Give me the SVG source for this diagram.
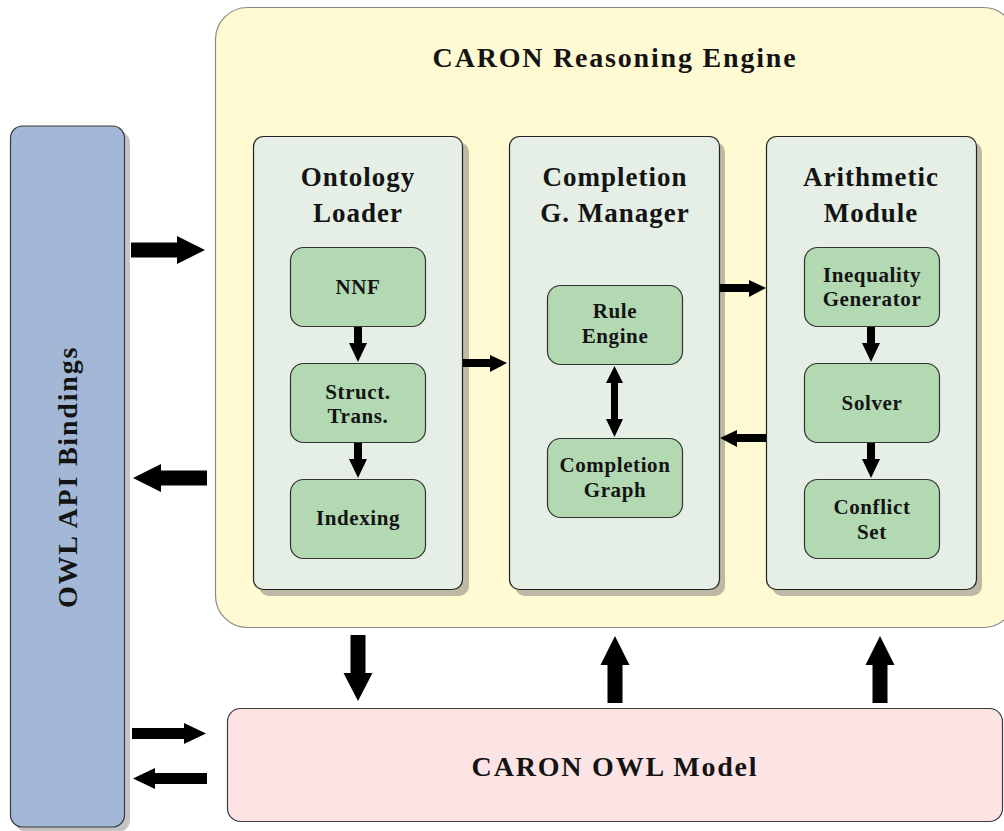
<svg xmlns="http://www.w3.org/2000/svg" width="1004" height="831" viewBox="0 0 1004 831">
<style>
text{font-family:"Liberation Serif","DejaVu Serif",serif;font-weight:bold;fill:#141414;text-anchor:middle}
.title{font-size:28px;letter-spacing:1.8px}
.panelt{font-size:27px;letter-spacing:1px}
.box{font-size:21px;letter-spacing:0.6px}
.panel{fill:#e5efe5;stroke:#222;stroke-width:1.2}
.pshadow{fill:#bdb9a5}
.gbox{fill:#b3d9b3;stroke:#333;stroke-width:1.2}
.arr{fill:#000}
</style>
<rect x="0" y="0" width="1004" height="831" fill="#fff"/>
<g id="owl-api">
<rect x="15" y="131" width="115" height="701" rx="12" fill="#c4c4c4"/>
<rect x="10.5" y="126" width="114" height="701" rx="12" fill="#a3b8d6" stroke="#3a3a3a" stroke-width="1.2"/>
<text class="title" transform="translate(77,477) rotate(-90)">OWL API Bindings</text>
</g>
<g id="engine">
<rect x="215.5" y="7.5" width="800" height="620" rx="32" fill="#fffad2" stroke="#8a8a8a" stroke-width="1.2"/>
<text class="title" x="615" y="67">CARON Reasoning Engine</text>
</g>
<g id="ontology-loader">
<rect class="pshadow" x="259" y="142" width="210" height="454" rx="10"/>
<rect class="panel" x="253.5" y="136.5" width="209" height="453" rx="10"/>
<text class="panelt" x="358" y="186">Ontology</text>
<text class="panelt" x="358" y="222">Loader</text>
</g>
<g id="completion-manager">
<rect class="pshadow" x="515" y="142" width="210" height="454" rx="10"/>
<rect class="panel" x="509.5" y="136.5" width="210" height="453" rx="10"/>
<text class="panelt" x="615" y="186">Completion</text>
<text class="panelt" x="615" y="222">G. Manager</text>
</g>
<g id="arithmetic-module">
<rect class="pshadow" x="772" y="142" width="210" height="454" rx="10"/>
<rect class="panel" x="766.5" y="136.5" width="210" height="453" rx="10"/>
<text class="panelt" x="871" y="186">Arithmetic</text>
<text class="panelt" x="871" y="222">Module</text>
</g>
<g id="nnf">
<rect class="gbox" x="290.5" y="247.5" width="135" height="79" rx="13"/>
<text class="box" x="358" y="294">NNF</text>
</g>
<g id="struct-trans">
<rect class="gbox" x="290.5" y="363.5" width="135" height="79" rx="13"/>
<text class="box" x="358" y="399">Struct.</text>
<text class="box" x="358" y="423">Trans.</text>
</g>
<g id="indexing">
<rect class="gbox" x="290.5" y="479.5" width="135" height="79" rx="13"/>
<text class="box" x="358" y="525">Indexing</text>
</g>
<g id="rule-engine">
<rect class="gbox" x="547.5" y="285.5" width="135" height="79" rx="13"/>
<text class="box" x="615" y="318">Rule</text>
<text class="box" x="615" y="343">Engine</text>
</g>
<g id="completion-graph">
<rect class="gbox" x="547.5" y="438.5" width="135" height="79" rx="13"/>
<text class="box" x="615" y="472">Completion</text>
<text class="box" x="615" y="497">Graph</text>
</g>
<g id="inequality-generator">
<rect class="gbox" x="804.5" y="247.5" width="135" height="79" rx="13"/>
<text class="box" x="872" y="282">Inequality</text>
<text class="box" x="872" y="306">Generator</text>
</g>
<g id="solver">
<rect class="gbox" x="804.5" y="363.5" width="135" height="79" rx="13"/>
<text class="box" x="872" y="410">Solver</text>
</g>
<g id="conflict-set">
<rect class="gbox" x="804.5" y="479.5" width="135" height="79" rx="13"/>
<text class="box" x="872" y="514">Conflict</text>
<text class="box" x="872" y="539">Set</text>
</g>
<g id="owl-model">
<rect x="227.5" y="708.5" width="775" height="113" rx="13" fill="#fde4e4" stroke="#3a3a3a" stroke-width="1.2"/>
<text class="title" x="615" y="776">CARON OWL Model</text>
</g>
<g id="connectors" class="arr">
<polygon points="131,242.5 177,242.5 177,236 205,250 177,264 177,257.5 131,257.5"/>
<polygon points="207,470.5 161,470.5 161,464 133,478 161,492 161,485.5 207,485.5"/>
<polygon points="350.5,635 365.5,635 365.5,673 372.5,673 358,701 343.5,673 350.5,673"/>
<polygon points="607.5,703 622.5,703 622.5,665 629.5,665 615,636 600.5,665 607.5,665"/>
<polygon points="872.5,703 887.5,703 887.5,665 894.5,665 880,636 865.5,665 872.5,665"/>
<polygon points="132,728 184,728 184,723 206,733.5 184,744 184,739 132,739"/>
<polygon points="207,773 155,773 155,768 133,778.5 155,789 155,784 207,784"/>
<polygon points="463,359 490,359 490,355 507,363 490,372 490,367 463,367"/>
<polygon points="720,284 749,284 749,280 766,288 749,297 749,292 720,292"/>
<polygon points="766,434 737,434 737,430 720,438 737,447 737,442 766,442"/>
<polygon points="354,327 362,327 362,343 367,343 358,362 349,343 354,343"/>
<polygon points="354,443 362,443 362,459 367,459 358,478 349,459 354,459"/>
<polygon points="867,327 875,327 875,343 880,343 871,362 862,343 867,343"/>
<polygon points="867,443 875,443 875,459 880,459 871,478 862,459 867,459"/>
<polygon points="614.5,366 623,383 618,383 618,419 623,419 614.5,437 606,419 611,419 611,383 606,383"/>
</g>
</svg>
